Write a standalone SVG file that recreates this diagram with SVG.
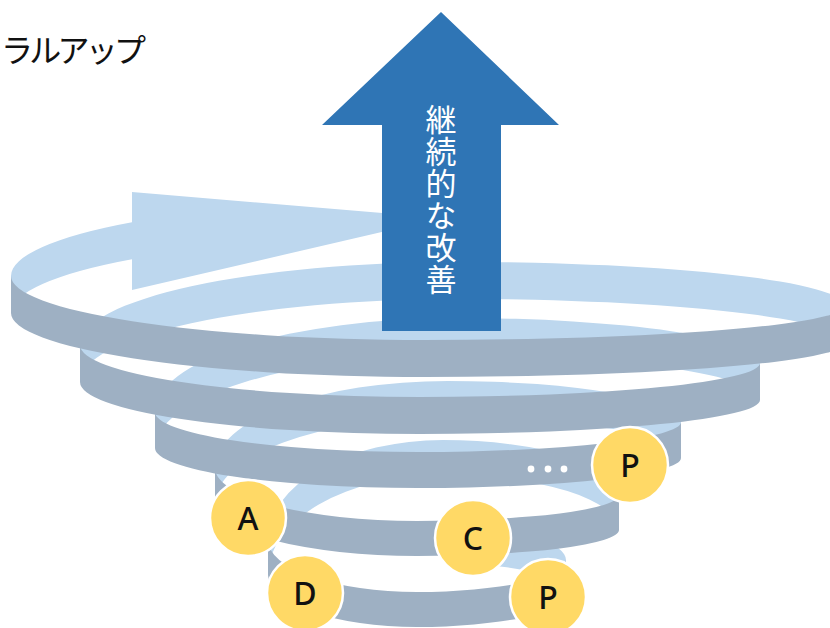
<svg xmlns="http://www.w3.org/2000/svg" width="830" height="628" viewBox="0 0 830 628">
  <defs>
    <style>
      .back { fill: #bdd7ee; }
      .front { fill: #9eb0c3; }
      .step circle { fill: #ffd966; stroke: #ffffff; stroke-width: 2.5; }
      .step text { font-family: "Noto Sans", "Open Sans", sans-serif; font-size: 32px; font-weight: 500; text-anchor: middle; fill: #111111; }
      .dot { fill: #ffffff; }
      .title { font-family: "Noto Sans CJK JP", "Noto Sans", sans-serif; font-size: 32px; fill: #111111; }
      .vlabel { font-family: "Noto Sans CJK JP", "Noto Sans", sans-serif; font-size: 31px; fill: #ffffff; writing-mode: vertical-rl; letter-spacing: 1px; }
    </style>
    <clipPath id="shaftClip">
      <rect x="0" y="0" width="132" height="628"/>
    </clipPath>
  </defs>

  <rect width="830" height="628" fill="#ffffff"/>

  <text class="title" x="1" y="62" textLength="145" lengthAdjust="spacing">ラルアップ</text>

  <!-- spiral ribbon: inner (back) faces first, outer (front) faces on top -->
  <g id="spiral">
    <g id="spiral-back">
      <path class="back" d="M470,530 A96,30 0 0 1 566,560 L566,595 A96,30 0 0 0 470,565 Z"/>
      <path class="back" d="M268,540 A175,100 0 0 1 443,440 A176,55 0 0 1 619,495 L619,530 A176,55 0 0 0 443,475 A175,100 0 0 0 268,575 Z"/>
      <path class="back" d="M215,468 A233,87 0 0 1 448,381 A233,41 0 0 1 681,422 L681,458 A233,41 0 0 0 448,417 A233,87 0 0 0 215,504 Z"/>
      <path class="back" d="M155,412 A302,94 0 0 1 457,318 A303,45 0 0 1 760,363 L760,400 A303,45 0 0 0 457,355 A302,94 0 0 0 155,449 Z"/>
      <path class="back" d="M80,345 A380,83 0 0 1 460,262 A385,44 0 0 1 845,306 L845,343 A385,44 0 0 0 460,299 A380,83 0 0 0 80,382 Z"/>
      <!-- top turn ending in the arrowhead -->
      <path class="back" clip-path="url(#shaftClip)" d="M11,276 A414,76 0 0 1 425,200 L425,237 A414,76 0 0 0 11,313 Z"/>
      <polygon class="back" points="132,192 442,218 132,290"/>
    </g>
    <g id="spiral-front">
      <path class="front" d="M268,540 A149,52 0 0 0 417,592 A149,32 0 0 0 566,560 L566,595 A149,32 0 0 1 417,627 A149,52 0 0 1 268,575 Z"/>
      <path class="front" d="M215,468 A202,53 0 0 0 417,521 A202,26 0 0 0 619,495 L619,530 A202,26 0 0 1 417,556 A202,53 0 0 1 215,503 Z"/>
      <path class="front" d="M155,412 A263,40 0 0 0 418,452 A263,30 0 0 0 681,422 L681,458 A263,30 0 0 1 418,488 A263,40 0 0 1 155,448 Z"/>
      <path class="front" d="M80,345 A340,52 0 0 0 420,397 A340,34 0 0 0 760,363 L760,400 A340,34 0 0 1 420,434 A340,52 0 0 1 80,382 Z"/>
      <path class="front" d="M11,276 A414,64 0 0 0 425,340 A420,34 0 0 0 845,306 L845,343 A420,34 0 0 1 425,377 A414,64 0 0 1 11,313 Z"/>
    </g>
  </g>

  <!-- upward arrow -->
  <g id="improvement">
    <polygon fill="#2f75b5" points="441,12 559,125 501,125 501,331 382,331 382,125 322,125"/>
    <text class="vlabel" x="441" y="104">継続的な改善</text>
  </g>

  <g id="ellipsis">
    <circle class="dot" cx="531" cy="469" r="3.4"/>
    <circle class="dot" cx="548" cy="469" r="3.4"/>
    <circle class="dot" cx="564" cy="469" r="3.4"/>
  </g>

  <g id="step-p1" class="step">
    <circle cx="630" cy="465" r="38"/>
    <text x="630" y="477">P</text>
  </g>
  <g id="step-a" class="step">
    <circle cx="248" cy="518" r="38"/>
    <text x="248" y="530">A</text>
  </g>
  <g id="step-c" class="step">
    <circle cx="473" cy="538" r="38"/>
    <text x="473" y="550">C</text>
  </g>
  <g id="step-d" class="step">
    <circle cx="305" cy="593" r="38"/>
    <text x="305" y="605">D</text>
  </g>
  <g id="step-p2" class="step">
    <circle cx="548" cy="597" r="38"/>
    <text x="548" y="609">P</text>
  </g>
</svg>
